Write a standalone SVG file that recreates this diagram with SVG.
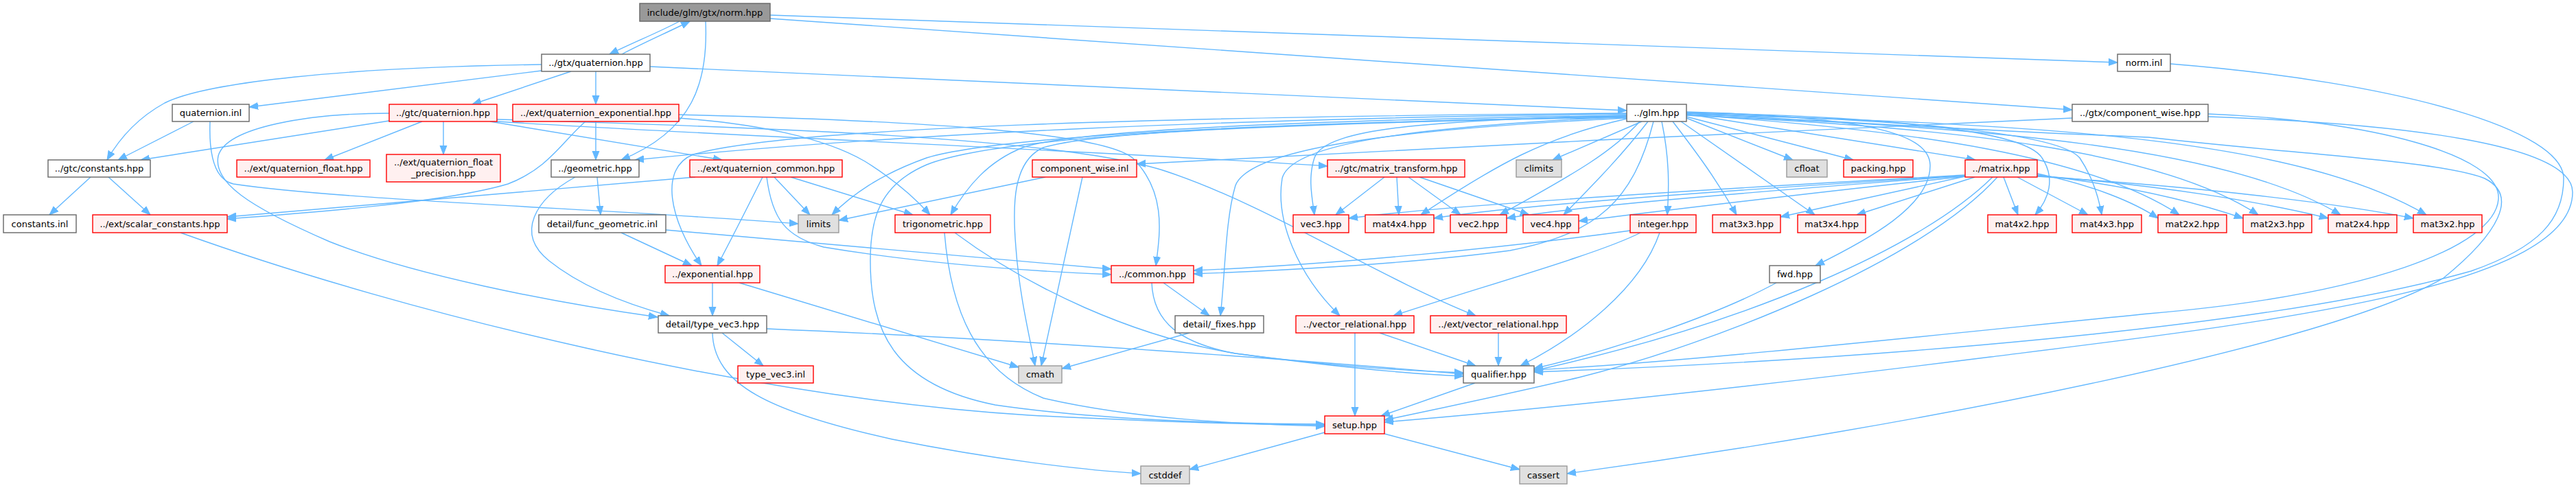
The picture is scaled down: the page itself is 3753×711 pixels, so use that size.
<svg xmlns="http://www.w3.org/2000/svg" width="3753" height="711" viewBox="0 0 3753 711">
<style>
.e{fill:none;stroke:#63b8ff;stroke-width:1.4;marker-end:url(#a)}
.n rect{stroke-width:1.4}
.w rect{fill:#ffffff;stroke:#666666}
.r rect{fill:#fff0f0;stroke:#ff0000}
.g rect{fill:#e0e0e0;stroke:#999999}
.root rect{fill:#999999;stroke:#666666}
text{font-family:"DejaVu Sans","Liberation Sans",sans-serif;font-size:13px;fill:#000000;text-anchor:middle}
</style>
<defs>
<marker id="a" markerWidth="14" markerHeight="12" refX="13" refY="6" orient="auto" markerUnits="userSpaceOnUse"><path d="M0,1 L13,6 L0,11 z" fill="#63b8ff" stroke="#63b8ff"/></marker>
</defs>
<rect width="3753" height="711" fill="#ffffff"/>
<g id="edges">
<path class="e" d="M990,31 C960,47 920,63 888,79"/>
<path class="e" d="M906,79 C936,63 975,46 1005,31"/>
<path class="e" d="M1028,31 C1032,120 1010,190 905,233"/>
<path class="e" d="M1122,22 L3085,91"/>
<path class="e" d="M1122,27 L3019,160"/>
<path class="e" d="M789,94 C500,98 300,120 240,150 C200,172 175,200 156,233"/>
<path class="e" d="M789,103 L363,156"/>
<path class="e" d="M832,104 L688,152"/>
<path class="e" d="M868,104 L868,152"/>
<path class="e" d="M947,97 L2370,161"/>
<path class="e" d="M282,177 L172,233"/>
<path class="e" d="M306,177 C304,230 315,262 340,268 C500,292 900,305 1163,326"/>
<path class="e" d="M567,165 C450,165 330,185 318,227 C310,265 360,300 480,352 C600,400 800,440 958,462"/>
<path class="e" d="M567,176 L205,233"/>
<path class="e" d="M615,177 L473,233"/>
<path class="e" d="M646,177 L646,225"/>
<path class="e" d="M714,177 L1052,233"/>
<path class="e" d="M724,177 C1000,195 1600,220 1934,242"/>
<path class="e" d="M724,174 C1100,185 1550,200 1700,250 C1850,300 2000,400 2150,460"/>
<path class="e" d="M868,177 L868,233"/>
<path class="e" d="M853,177 C820,205 800,245 740,268 C650,295 450,310 331,319"/>
<path class="e" d="M989,172 C1100,180 1200,200 1260,235 C1300,260 1330,285 1355,313"/>
<path class="e" d="M989,167 C1300,175 1600,190 1650,230 C1700,280 1690,340 1684,387"/>
<path class="e" d="M1013,258 L331,316"/>
<path class="e" d="M1111,258 C1090,300 1070,340 1045,387"/>
<path class="e" d="M1117,258 C1125,320 1145,345 1200,360 C1350,385 1500,395 1619,400"/>
<path class="e" d="M1128,258 L1180,313"/>
<path class="e" d="M1152,258 L1330,313"/>
<path class="e" d="M870,258 L875,313"/>
<path class="e" d="M838,258 C780,290 750,340 800,380 C850,420 920,445 975,460"/>
<path class="e" d="M905,339 L1008,387"/>
<path class="e" d="M970,335 L1619,392"/>
<path class="e" d="M132,258 L72,313"/>
<path class="e" d="M158,258 L219,313"/>
<path class="e" d="M263,339 C600,460 1100,580 1500,605 C1700,615 1850,619 1930,619"/>
<path class="e" d="M1376,339 C1385,450 1420,540 1520,580 C1650,610 1800,618 1930,621"/>
<path class="e" d="M1391,339 C1500,420 1650,490 1800,515 C1950,535 2050,540 2132,543"/>
<path class="e" d="M1577,258 L1517,533"/>
<path class="e" d="M1523,258 L1222,321"/>
<path class="e" d="M3019,172 C2700,185 2000,220 1656,239"/>
<path class="e" d="M3162,93 C3500,120 3735,190 3735,260 C3735,320 3700,360 3600,395 C3300,480 2700,525 2235,542"/>
<path class="e" d="M3217,166 C3450,175 3645,225 3640,290 C3635,360 3450,430 3130,457 C2800,490 2450,528 2235,539"/>
<path class="e" d="M3217,170 C3500,180 3748,210 3748,280 C3748,420 3300,470 2900,520 C2500,570 2200,600 2017,615"/>
<path class="e" d="M2457,165 C2800,185 3000,195 3130,200 C3350,225 3560,235 3620,260 C3670,285 3640,340 3560,405 C3400,500 2800,620 2283,690"/>
<path class="e" d="M2457,163 C2700,170 2810,190 2812,240 C2814,300 2720,350 2645,387"/>
<path class="e" d="M2392,177 L2262,233"/>
<path class="e" d="M2389,177 C2350,220 2300,250 2185,313"/>
<path class="e" d="M2401,177 C2360,230 2320,270 2278,313"/>
<path class="e" d="M2421,177 C2432,230 2432,270 2429,313"/>
<path class="e" d="M2409,177 C2380,290 2330,340 2200,365 C2050,385 1850,395 1739,399"/>
<path class="e" d="M2375,336 C2200,360 1950,385 1739,394"/>
<path class="e" d="M2390,339 C2330,370 2150,420 2030,460"/>
<path class="e" d="M2370,170 C2050,185 1880,210 1868,260 C1858,320 1890,400 1952,460"/>
<path class="e" d="M2370,168 C2100,175 1930,185 1915,230 C1905,260 1912,290 1915,313"/>
<path class="e" d="M2370,173 C2250,200 2180,240 2070,313"/>
<path class="e" d="M2370,166 C1800,172 1300,195 925,233"/>
<path class="e" d="M2370,165 C1700,170 1150,185 1010,225 C960,245 975,320 1022,387"/>
<path class="e" d="M2370,170 C1800,180 1450,200 1350,230 C1280,255 1240,285 1212,313"/>
<path class="e" d="M2370,168 C1900,175 1560,190 1490,215 C1440,235 1410,270 1385,313"/>
<path class="e" d="M2370,169 C1900,180 1600,190 1520,215 C1475,235 1475,300 1480,360 C1485,430 1500,490 1508,533"/>
<path class="e" d="M2370,171 C1800,180 1450,200 1350,240 C1280,270 1268,320 1268,380 C1268,480 1300,560 1450,590 C1600,612 1800,618 1930,618"/>
<path class="e" d="M2370,172 C2000,190 1820,220 1800,270 C1785,320 1785,400 1778,460"/>
<path class="e" d="M2457,166 L2878,233"/>
<path class="e" d="M2457,170 L2700,233"/>
<path class="e" d="M2457,172 L2612,233"/>
<path class="e" d="M2437,177 C2470,220 2500,260 2530,313"/>
<path class="e" d="M2449,177 L2644,313"/>
<path class="e" d="M2457,164 C2750,170 2950,190 2975,230 C2995,260 2985,290 2965,313"/>
<path class="e" d="M2457,165 C2800,175 3000,195 3030,230 C3050,260 3058,290 3062,313"/>
<path class="e" d="M2457,167 C2800,190 3050,230 3175,313"/>
<path class="e" d="M2457,168 C2850,185 3150,220 3290,313"/>
<path class="e" d="M2457,168 C2900,185 3250,215 3410,313"/>
<path class="e" d="M2457,167 C3000,180 3350,205 3535,313"/>
<path class="e" d="M2863,255 C2500,275 2100,300 1965,318"/>
<path class="e" d="M2863,256 C2500,278 2200,300 2089,318"/>
<path class="e" d="M2863,256 C2550,280 2300,300 2195,318"/>
<path class="e" d="M2863,257 C2600,285 2400,310 2300,322"/>
<path class="e" d="M2863,257 L2594,316"/>
<path class="e" d="M2877,258 L2705,313"/>
<path class="e" d="M2919,258 L2940,313"/>
<path class="e" d="M2939,258 L3042,313"/>
<path class="e" d="M2968,253 C3050,270 3110,295 3144,318"/>
<path class="e" d="M2968,255 C3100,270 3200,295 3268,318"/>
<path class="e" d="M2968,256 C3150,270 3300,295 3392,318"/>
<path class="e" d="M2968,257 C3200,272 3400,295 3516,318"/>
<path class="e" d="M2903,258 C2800,360 2550,470 2235,540"/>
<path class="e" d="M2910,258 C2800,380 2500,500 2300,550 C2150,585 2050,605 2017,612"/>
<path class="e" d="M2588,412 C2500,460 2350,510 2235,537"/>
<path class="e" d="M2418,339 C2390,420 2300,490 2215,533"/>
<path class="e" d="M2017,258 L1946,313"/>
<path class="e" d="M2035,258 L2038,313"/>
<path class="e" d="M2052,258 L2128,313"/>
<path class="e" d="M2068,258 L2228,313"/>
<path class="e" d="M2010,485 L2150,533"/>
<path class="e" d="M1974,485 L1974,606"/>
<path class="e" d="M2183,485 L2183,533"/>
<path class="e" d="M2149,558 L2012,606"/>
<path class="e" d="M2017,632 L2214,684"/>
<path class="e" d="M1930,630 L1733,684"/>
<path class="e" d="M1038,485 C1040,560 1120,600 1300,640 C1450,670 1580,685 1662,690"/>
<path class="e" d="M1117,479 C1500,495 1900,525 2132,545"/>
<path class="e" d="M1678,412 C1680,470 1720,500 1800,515 C1950,535 2050,545 2132,548"/>
<path class="e" d="M1695,412 L1762,460"/>
<path class="e" d="M1733,485 L1547,537"/>
<path class="e" d="M1077,412 L1484,535"/>
<path class="e" d="M1038,412 L1038,460"/>
<path class="e" d="M1052,485 L1112,533"/>
</g>
<g id="n_norm_hpp" class="n root"><rect x="932" y="5" width="190" height="26"/><text x="1027" y="22.5">include/glm/gtx/norm.hpp</text></g>
<g id="n_gtx_quaternion" class="n w"><rect x="789" y="79" width="158" height="25"/><text x="868" y="96">../gtx/quaternion.hpp</text></g>
<g id="n_norm_inl" class="n w"><rect x="3085" y="79" width="77" height="25"/><text x="3123.5" y="96">norm.inl</text></g>
<g id="n_quaternion_inl" class="n w"><rect x="251" y="152" width="112" height="25"/><text x="307" y="169">quaternion.inl</text></g>
<g id="n_gtc_quaternion" class="n r"><rect x="567" y="152" width="157" height="25"/><text x="645.5" y="169">../gtc/quaternion.hpp</text></g>
<g id="n_quat_exp" class="n r"><rect x="747" y="152" width="242" height="25"/><text x="868" y="169">../ext/quaternion_exponential.hpp</text></g>
<g id="n_glm" class="n w"><rect x="2370" y="152" width="87" height="25"/><text x="2413.5" y="169">../glm.hpp</text></g>
<g id="n_gtx_cw" class="n w"><rect x="3019" y="152" width="198" height="25"/><text x="3118" y="169">../gtx/component_wise.hpp</text></g>
<g id="n_gtc_constants" class="n w"><rect x="70" y="233" width="149" height="25"/><text x="144.5" y="250">../gtc/constants.hpp</text></g>
<g id="n_quat_float" class="n r"><rect x="345" y="233" width="194" height="25"/><text x="442" y="250">../ext/quaternion_float.hpp</text></g>
<g id="n_quat_float_prec" class="n r"><rect x="563" y="225" width="166" height="40"/><text x="646" y="241">../ext/quaternion_float</text><text x="646" y="257">_precision.hpp</text></g>
<g id="n_geometric" class="n w"><rect x="803" y="233" width="128" height="25"/><text x="867" y="250">../geometric.hpp</text></g>
<g id="n_quat_common" class="n r"><rect x="1005" y="233" width="222" height="25"/><text x="1116" y="250">../ext/quaternion_common.hpp</text></g>
<g id="n_cw_inl" class="n r"><rect x="1504" y="233" width="152" height="25"/><text x="1580" y="250">component_wise.inl</text></g>
<g id="n_matrix_transform" class="n r"><rect x="1934" y="233" width="200" height="25"/><text x="2034" y="250">../gtc/matrix_transform.hpp</text></g>
<g id="n_climits" class="n g"><rect x="2209" y="233" width="66" height="25"/><text x="2242" y="250">climits</text></g>
<g id="n_cfloat" class="n g"><rect x="2603" y="233" width="59" height="25"/><text x="2632.5" y="250">cfloat</text></g>
<g id="n_packing" class="n r"><rect x="2686" y="233" width="101" height="25"/><text x="2736.5" y="250">packing.hpp</text></g>
<g id="n_matrix" class="n r"><rect x="2863" y="233" width="105" height="25"/><text x="2915.5" y="250">../matrix.hpp</text></g>
<g id="n_constants_inl" class="n w"><rect x="5" y="313" width="106" height="26"/><text x="58" y="330.5">constants.inl</text></g>
<g id="n_scalar_constants" class="n r"><rect x="135" y="313" width="196" height="26"/><text x="233" y="330.5">../ext/scalar_constants.hpp</text></g>
<g id="n_func_geometric" class="n w"><rect x="785" y="313" width="185" height="26"/><text x="877.5" y="330.5">detail/func_geometric.inl</text></g>
<g id="n_limits" class="n g"><rect x="1163" y="313" width="59" height="26"/><text x="1192.5" y="330.5">limits</text></g>
<g id="n_trigonometric" class="n r"><rect x="1304" y="313" width="139" height="26"/><text x="1373.5" y="330.5">trigonometric.hpp</text></g>
<g id="n_vec3" class="n r"><rect x="1884" y="313" width="81" height="26"/><text x="1924.5" y="330.5">vec3.hpp</text></g>
<g id="n_mat4x4" class="n r"><rect x="1989" y="313" width="100" height="26"/><text x="2039" y="330.5">mat4x4.hpp</text></g>
<g id="n_vec2" class="n r"><rect x="2113" y="313" width="82" height="26"/><text x="2154" y="330.5">vec2.hpp</text></g>
<g id="n_vec4" class="n r"><rect x="2219" y="313" width="81" height="26"/><text x="2259.5" y="330.5">vec4.hpp</text></g>
<g id="n_integer" class="n r"><rect x="2375" y="313" width="96" height="26"/><text x="2423" y="330.5">integer.hpp</text></g>
<g id="n_mat3x3" class="n r"><rect x="2495" y="313" width="99" height="26"/><text x="2544.5" y="330.5">mat3x3.hpp</text></g>
<g id="n_mat3x4" class="n r"><rect x="2619" y="313" width="99" height="26"/><text x="2668.5" y="330.5">mat3x4.hpp</text></g>
<g id="n_mat4x2" class="n r"><rect x="2896" y="313" width="100" height="26"/><text x="2946" y="330.5">mat4x2.hpp</text></g>
<g id="n_mat4x3" class="n r"><rect x="3019" y="313" width="101" height="26"/><text x="3069.5" y="330.5">mat4x3.hpp</text></g>
<g id="n_mat2x2" class="n r"><rect x="3144" y="313" width="100" height="26"/><text x="3194" y="330.5">mat2x2.hpp</text></g>
<g id="n_mat2x3" class="n r"><rect x="3268" y="313" width="100" height="26"/><text x="3318" y="330.5">mat2x3.hpp</text></g>
<g id="n_mat2x4" class="n r"><rect x="3392" y="313" width="100" height="26"/><text x="3442" y="330.5">mat2x4.hpp</text></g>
<g id="n_mat3x2" class="n r"><rect x="3516" y="313" width="100" height="26"/><text x="3566" y="330.5">mat3x2.hpp</text></g>
<g id="n_exponential" class="n r"><rect x="969" y="387" width="138" height="25"/><text x="1038" y="404">../exponential.hpp</text></g>
<g id="n_common" class="n r"><rect x="1619" y="387" width="120" height="25"/><text x="1679" y="404">../common.hpp</text></g>
<g id="n_fwd" class="n w"><rect x="2578" y="387" width="74" height="25"/><text x="2615" y="404">fwd.hpp</text></g>
<g id="n_type_vec3" class="n w"><rect x="959" y="460" width="158" height="25"/><text x="1038" y="477">detail/type_vec3.hpp</text></g>
<g id="n_fixes" class="n w"><rect x="1712" y="460" width="129" height="25"/><text x="1776.5" y="477">detail/_fixes.hpp</text></g>
<g id="n_vector_relational" class="n r"><rect x="1888" y="460" width="172" height="25"/><text x="1974" y="477">../vector_relational.hpp</text></g>
<g id="n_ext_vector_relational" class="n r"><rect x="2084" y="460" width="198" height="25"/><text x="2183" y="477">../ext/vector_relational.hpp</text></g>
<g id="n_type_vec3_inl" class="n r"><rect x="1075" y="533" width="110" height="25"/><text x="1130" y="550">type_vec3.inl</text></g>
<g id="n_cmath" class="n g"><rect x="1484" y="533" width="63" height="25"/><text x="1515.5" y="550">cmath</text></g>
<g id="n_qualifier" class="n w"><rect x="2132" y="533" width="103" height="25"/><text x="2183.5" y="550">qualifier.hpp</text></g>
<g id="n_setup" class="n r"><rect x="1930" y="606" width="87" height="26"/><text x="1973.5" y="623.5">setup.hpp</text></g>
<g id="n_cstddef" class="n g"><rect x="1662" y="679" width="71" height="26"/><text x="1697.5" y="696.5">cstddef</text></g>
<g id="n_cassert" class="n g"><rect x="2214" y="679" width="69" height="26"/><text x="2248.5" y="696.5">cassert</text></g>
</svg>
